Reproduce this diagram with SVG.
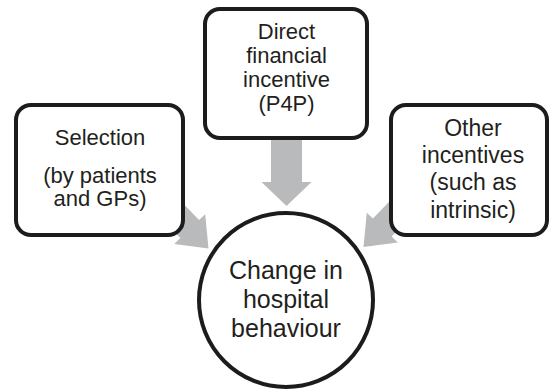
<svg xmlns="http://www.w3.org/2000/svg" xmlns:xlink="http://www.w3.org/1999/xlink" width="553" height="389" viewBox="0 0 553 389">
  <style>
    .box { fill: #ffffff; stroke: #1c1c1c; stroke-width: 4; }
    .arrow { fill: #b9babc; stroke: none; }
    .label { font-family: "Liberation Sans", Arial, sans-serif; fill: #231f20; text-anchor: middle; }
  </style>
  <defs>
    <!-- block arrow pointing along +x, tip at the origin -->
    <polygon id="arrowV" points="0,0 -24,-25 -24,-15.5 -75,-15.5 -75,15.5 -24,15.5 -24,25"/>
    <polygon id="arrowD" points="0,0 -27,-21.5 -27,-13 -80,-13 -80,13 -27,13 -27,21.5"/>
  </defs>

  <rect width="553" height="389" fill="#ffffff"/>

  <g id="connectors" class="arrow">
    <use xlink:href="#arrowV" transform="translate(286.5,206) rotate(90)"/>
    <use xlink:href="#arrowD" transform="translate(208.5,248.5) rotate(46)"/>
    <use xlink:href="#arrowD" transform="translate(363.5,247) rotate(134)"/>
  </g>

  <g id="selection">
    <rect class="box" x="16" y="105" width="167" height="130" rx="15"/>
    <text class="label" font-size="22" x="100" y="145">Selection</text>
    <text class="label" font-size="22" x="100" y="183">(by patients</text>
    <text class="label" font-size="22" x="100" y="206">and GPs)</text>
  </g>

  <g id="direct-incentive">
    <rect class="box" x="205" y="9" width="162" height="129" rx="15"/>
    <text class="label" font-size="22" x="286.5" y="39">Direct</text>
    <text class="label" font-size="22" x="286.5" y="63">financial</text>
    <text class="label" font-size="22" x="286.5" y="87">incentive</text>
    <text class="label" font-size="22" x="286.5" y="111">(P4P)</text>
  </g>

  <g id="other-incentives">
    <rect class="box" x="391" y="105" width="156" height="130" rx="15"/>
    <text class="label" font-size="23" x="473" y="136">Other</text>
    <text class="label" font-size="23" x="473" y="163">incentives</text>
    <text class="label" font-size="23" x="473" y="190">(such as</text>
    <text class="label" font-size="23" x="473" y="218">intrinsic)</text>
  </g>

  <g id="behaviour-change">
    <circle class="box" cx="286" cy="300" r="87" stroke-width="3.5"/>
    <text class="label" font-size="25" x="286" y="279">Change in</text>
    <text class="label" font-size="25" x="286" y="308">hospital</text>
    <text class="label" font-size="25" x="286" y="337">behaviour</text>
  </g>
</svg>
